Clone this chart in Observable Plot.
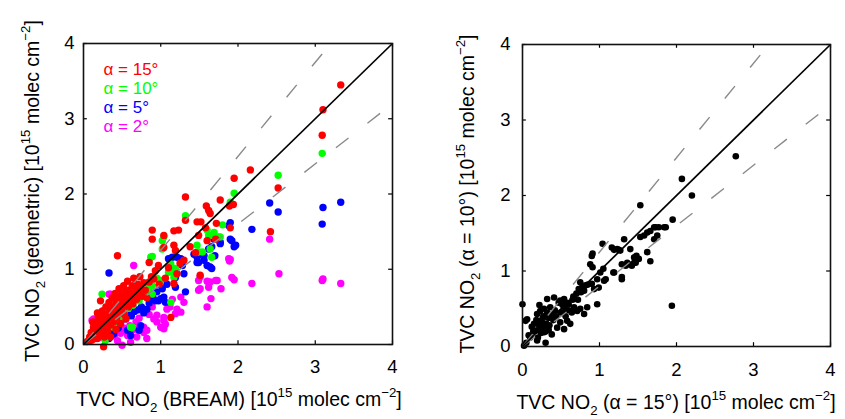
<!DOCTYPE html>
<html><head><meta charset="utf-8">
<script src="https://cdn.jsdelivr.net/npm/d3@7"></script>
<script src="https://cdn.jsdelivr.net/npm/@observablehq/plot@0.6"></script>
<style>
body{margin:0;background:#fff;}
#wrap{position:relative;width:845px;height:419px;overflow:hidden;background:#fff;}
#wrap svg{position:absolute;top:0;}
</style></head><body><div id="wrap"></div>
<script>
// ---------- data ----------
const tickValues = [0, 1, 2, 3, 4];
const refSlopes = [1.25, 0.8];           // dashed reference lines y = s * x
const legendLabels = ["α = 15°", "α = 10°", "α = 5°", "α = 2°"];
const seriesColors = ["#ff0000", "#00ff00", "#0000ff", "#ff00ff"];

// left panel: x = TVC NO2 (BREAM), y = TVC NO2 (geometric)
const alpha15 = [
[3.33,3.45],[3.10,3.12],[3.09,2.78],[2.16,2.32],[1.95,2.21],[2.52,2.08],[1.32,1.96],[1.59,1.84],[1.77,1.92],[1.89,1.84],[1.94,1.86],[2.42,1.50],[1.90,1.55],[1.64,1.74],[1.62,1.78],[1.32,1.65],[1.47,1.63],[1.52,1.63],[1.72,1.61],[1.58,1.55],[0.89,1.52],[0.89,1.40],[1.04,1.45],[1.17,1.51],[1.23,1.52],[1.04,1.29],[1.17,1.32],[1.19,1.25],[1.49,1.45],[1.71,1.40],[0.44,1.18],[0.85,1.09],[1.51,0.92],[1.13,0.36],[1.21,0.94],[1.17,0.81],[1.30,1.12],[1.10,1.02],[0.97,1.05],[0.93,0.98],[1.06,0.88],[0.98,0.80],[1.45,1.22],[1.60,1.38],[1.38,1.30],[1.25,1.08],
[0.05,0.04],[0.08,0.10],[0.10,0.16],[0.11,0.06],[0.13,0.22],[0.14,0.12],[0.16,0.28],[0.17,0.18],[0.18,0.08],[0.19,0.36],[0.20,0.24],[0.21,0.14],[0.22,0.58],[0.23,0.30],[0.24,0.44],[0.25,0.20],[0.26,-0.03],[0.26,0.36],[0.27,0.10],[0.28,0.27],[0.29,0.50],[0.30,0.40],[0.31,0.18],[0.32,0.33],[0.33,0.56],[0.34,0.46],[0.35,0.26],[0.36,0.38],[0.37,0.62],[0.38,0.50],[0.39,0.30],[0.40,0.44],[0.41,0.68],[0.42,0.56],[0.43,0.36],[0.44,0.48],[0.45,0.62],[0.46,0.74],[0.47,0.42],[0.48,0.54],[0.49,0.66],[0.50,0.48],[0.51,0.60],[0.52,0.78],[0.53,0.40],[0.54,0.70],[0.55,0.56],[0.56,0.64],[0.57,0.84],[0.58,0.50],[0.59,0.72],[0.60,0.60],[0.62,0.68],[0.63,0.78],[0.64,0.54],[0.65,0.88],[0.66,0.64],[0.68,0.72],[0.69,0.60],[0.70,0.80],[0.72,0.68],[0.73,0.90],[0.74,0.76],[0.76,0.64],[0.78,0.82],[0.80,0.72],[0.82,0.62],[0.85,0.83],[0.88,0.90],[0.91,0.87],[0.12,0.30],[0.18,0.42],[0.35,0.10],[0.42,0.20],[0.48,0.28],[0.55,0.34]
];
const alpha10 = [
[3.09,2.54],[2.52,2.25],[1.95,2.01],[1.90,1.89],[1.32,1.71],[1.80,1.59],[1.77,1.43],[1.75,1.43],[1.62,1.45],[1.64,1.45],[1.69,1.49],[1.60,1.52],[1.49,1.23],[1.54,1.23],[1.64,1.27],[1.66,1.16],[1.47,1.32],[1.02,1.38],[1.02,1.27],[1.04,1.43],[0.89,1.17],[0.87,1.16],[1.13,1.07],[1.19,1.01],[1.10,0.96],[1.17,0.96],[1.17,0.89],[1.00,0.85],[1.13,0.56],[0.89,0.67],[0.89,0.78],[0.74,0.65],[0.67,0.61],[0.24,0.67],[0.63,0.23],[0.61,0.23],[0.39,0.23],[0.28,0.05],[0.95,0.88],[0.85,0.75],[0.80,0.70],
[0.10,0.08],[0.15,0.12],[0.18,0.20],[0.20,0.15],[0.25,0.22],[0.28,0.30],[0.30,0.24],[0.34,0.32],[0.36,0.28],[0.40,0.38],[0.42,0.33],[0.45,0.42],[0.48,0.38],[0.50,0.46],[0.53,0.44],[0.55,0.52],[0.58,0.48],[0.60,0.56],[0.64,0.52],[0.66,0.60],[0.70,0.62],[0.72,0.58],[0.77,0.66],[0.82,0.72],[0.30,0.42],[0.22,0.32],[0.46,0.30],[0.52,0.36]
];
const alpha5 = [
[3.33,1.89],[3.10,1.82],[3.09,1.60],[2.41,1.88],[2.52,1.76],[2.18,1.53],[1.90,1.62],[1.88,1.58],[1.92,1.38],[1.95,1.30],[1.97,1.32],[1.90,1.40],[1.77,1.36],[1.69,1.40],[1.77,1.34],[1.62,1.27],[1.66,1.30],[1.51,1.20],[1.43,1.20],[1.47,1.16],[1.56,1.12],[1.56,1.18],[1.47,1.09],[1.49,1.09],[1.60,1.05],[1.64,1.03],[1.66,1.01],[1.70,1.18],[1.28,1.05],[1.26,1.14],[1.21,1.16],[1.10,1.14],[1.15,1.16],[1.19,0.89],[1.30,0.94],[1.19,0.76],[1.32,0.70],[1.04,0.63],[1.00,0.61],[0.97,0.58],[0.93,0.58],[1.06,0.56],[0.82,0.47],[0.33,0.95],[0.22,0.41],[0.37,0.19],[0.33,0.08],[0.61,0.12],[0.72,0.19],[0.74,0.25],[0.57,0.19],[0.39,0.14],
[0.15,0.10],[0.20,0.14],[0.25,0.18],[0.28,0.24],[0.32,0.20],[0.35,0.28],[0.40,0.26],[0.42,0.32],[0.46,0.30],[0.50,0.36],[0.54,0.34],[0.58,0.40],[0.62,0.38],[0.66,0.44],[0.70,0.46],[0.75,0.50],[0.78,0.42],[0.85,0.55],[0.90,0.62],[0.95,0.70],[1.02,0.74],[1.08,0.80],[0.45,0.22],[0.30,0.12]
];
const alpha2 = [
[3.33,0.81],[3.10,0.87],[3.09,0.85],[2.53,0.94],[2.41,1.40],[2.18,0.81],[1.89,1.11],[1.90,1.13],[1.95,0.86],[1.92,0.89],[1.78,0.74],[1.65,0.61],[1.60,0.50],[1.71,0.85],[1.73,0.85],[1.60,0.84],[1.64,0.83],[1.62,0.76],[1.51,0.74],[1.51,0.90],[1.49,0.85],[1.49,0.72],[1.88,1.14],[0.65,1.05],[1.26,0.63],[1.30,0.56],[1.26,0.43],[1.21,0.47],[1.19,0.41],[1.08,0.47],[1.04,0.36],[0.91,0.34],[1.00,0.23],[1.04,0.21],[1.06,0.27],[1.04,0.32],[0.95,0.39],[0.89,0.50],[0.78,0.45],[0.78,0.23],[0.78,0.16],[0.82,0.19],[0.82,0.08],[0.72,0.23],[0.69,0.10],[0.61,0.03],[0.57,0.12],[0.50,-0.01],[0.44,0.05],[0.41,0.14],[0.35,0.67],[0.33,0.67],[0.22,0.10],[0.13,0.23],[0.13,0.32],[0.11,0.32],[0.13,0.25],[0.13,0.34],
[0.08,0.05],[0.15,0.08],[0.20,0.12],[0.25,0.10],[0.28,0.15],[0.30,0.08],[0.35,0.18],[0.38,0.12],[0.45,0.20],[0.48,0.15],[0.52,0.22],[0.55,0.18],[0.60,0.25],[0.65,0.20],[0.68,0.30],[0.72,0.35],[0.85,0.40],[0.95,0.30],[1.12,0.50],[1.15,0.60],[0.30,0.30],[0.25,0.45],[0.40,0.35],[0.18,0.20]
];

// right panel: x = TVC NO2 (alpha = 15°), y = TVC NO2 (alpha = 10°)
const alpha15vs10 = [
[2.77,2.52],[2.07,2.22],[2.20,2.00],[1.53,1.87],[1.95,1.68],[1.86,1.58],[1.77,1.58],[1.71,1.58],[1.66,1.53],[1.62,1.51],[1.58,1.47],[1.53,1.45],[1.71,1.42],[1.75,1.47],[1.62,1.25],[1.66,1.13],[1.32,1.42],[1.40,1.29],[1.27,1.27],[1.16,1.31],[1.04,1.36],[1.23,1.29],[1.48,1.20],[1.51,1.16],[1.45,1.11],[1.38,1.09],[1.29,1.09],[1.36,1.11],[1.18,0.98],[1.29,0.89],[1.05,1.03],[1.01,0.98],[1.08,0.89],[1.06,0.87],[0.91,1.23],[0.88,1.09],[0.91,1.05],[0.75,0.85],[0.82,0.81],[0.80,0.74],[0.93,0.76],[0.99,0.78],[0.97,0.56],[1.94,0.54],[0.00,0.56],[0.06,0.36],[0.32,0.63],[0.41,0.65],[0.49,0.61],[0.54,0.63],[0.60,0.56],[0.67,0.52],[0.71,0.47],[0.75,0.50],[0.84,0.52],[0.80,0.43],[0.19,0.43],[0.23,0.47],[0.15,0.30],[0.17,0.21],[0.28,0.19],[0.10,0.12],[0.19,0.08],[0.30,0.05],[0.28,0.25],[0.49,0.32],[0.58,0.34],[0.62,0.30],[0.45,0.25],[0.54,0.23],[0.38,0.16],[1.19,0.98],[1.29,0.92],[0.90,0.83],[0.97,0.89],[1.42,1.07],[1.34,1.07],[1.47,1.11],[1.45,1.18],[1.19,1.28],[1.25,1.28],[0.90,1.20],[1.73,1.58],[1.84,1.58],[0.04,0.34],[0.47,0.58],[0.52,0.45],[0.02,0.01],
[0.20,0.30],[0.25,0.35],[0.30,0.30],[0.22,0.25],[0.27,0.40],[0.33,0.38],[0.35,0.28],[0.24,0.18],[0.30,0.20],[0.18,0.35],[0.26,0.28],[0.32,0.45],[0.38,0.42],[0.42,0.48],[0.36,0.52],[0.44,0.40],[0.50,0.45],[0.55,0.50],[0.40,0.35],[0.28,0.50],[0.22,0.55],[0.34,0.22],[0.14,0.20],[0.12,0.26],[0.20,0.12],[0.05,0.05],[0.08,0.15],[0.65,0.62],[0.70,0.70],[0.72,0.62],[0.60,0.48],[0.64,0.45],[0.52,0.55],[0.58,0.58],[0.66,0.66],[0.76,0.72],[0.78,0.80],[0.85,0.82],[0.73,0.76],[0.56,0.40]
];

const leftXLabel = [["TVC NO"],["2","sub"],[" (BREAM) [10"],["15","sup"],[" molec cm"],["−2","sup"],["]"]];
const leftYLabel = [["TVC NO"],["2","sub"],[" (geometric) [10"],["15","sup"],[" molec cm"],["−2","sup"],["]"]];
const rightXLabel = [["TVC NO"],["2","sub"],[" (α = 15°) [10"],["15","sup"],[" molec cm"],["−2","sup"],["]"]];
const rightYLabel = [["TVC NO"],["2","sub"],[" (α = 10°) [10"],["15","sup"],[" molec cm"],["−2","sup"],["]"]];

// ---------- drawing ----------
const FONT = "'Liberation Sans', Arial, Helvetica, sans-serif";

function addLabel(svg, parts, {x, y, rotate = false, size = 19.5}) {
  const t = d3.select(svg).append("text")
    .attr("transform", `translate(${x},${y})` + (rotate ? " rotate(-90)" : ""))
    .attr("text-anchor", "middle").attr("font-size", size).attr("fill", "black")
    .attr("font-family", FONT);
  let shift = 0;
  parts.forEach(([s, kind]) => {
    const ts = t.append("tspan").text(s);
    let target = 0;
    if (kind === "sub") { target = size * 0.32; ts.attr("font-size", size * 0.68); }
    if (kind === "sup") { target = -size * 0.45; ts.attr("font-size", size * 0.68); }
    if (target !== shift) ts.attr("dy", target - shift);
    shift = target;
  });
}

function panel({width, left, marginLeft, marginRight, marginTop, marginBottom, layers, r, legend, xPad, yPad}) {
  const marks = [];
  layers.forEach(l => marks.push(Plot.dot(l.data, {x: d => d[0], y: d => d[1], r, fill: l.color})));
  marks.push(Plot.link(refSlopes.map(s => ({x1: 0, y1: 0, x2: s > 1 ? 4 / s : 4, y2: s > 1 ? 4 : 4 * s})),
    {x1: "x1", y1: "y1", x2: "x2", y2: "y2", stroke: "#8a8a8a", strokeWidth: 1.4, strokeDasharray: "16,24"}));
  marks.push(Plot.link([{x1: 0, y1: 0, x2: 4, y2: 4}], {x1: "x1", y1: "y1", x2: "x2", y2: "y2", stroke: "black", strokeWidth: 1.7}));
  marks.push(Plot.ruleX(tickValues, {x: d => d, y1: 0, y2: 0.05, stroke: "black", strokeWidth: 1.2}));
  marks.push(Plot.ruleX(tickValues, {x: d => d, y1: 4, y2: 3.95, stroke: "black", strokeWidth: 1.2}));
  marks.push(Plot.ruleY(tickValues, {y: d => d, x1: 0, x2: 0.05, stroke: "black", strokeWidth: 1.2}));
  marks.push(Plot.ruleY(tickValues, {y: d => d, x1: 4, x2: 3.95, stroke: "black", strokeWidth: 1.2}));
  marks.push(Plot.frame({stroke: "#111", strokeWidth: 1.6}));
  marks.push(Plot.axisX(tickValues, {tickSize: 0, tickPadding: xPad, label: null, fontSize: 18.5, tickFormat: d => String(d)}));
  marks.push(Plot.axisY(tickValues, {tickSize: 0, tickPadding: yPad, label: null, fontSize: 18.5, tickFormat: d => String(d)}));
  if (legend) {
    legendLabels.forEach((lab, i) => marks.push(Plot.text([lab], {
      frameAnchor: "top-left", dx: 20, dy: 19 + 19 * i, text: d => d,
      fill: seriesColors[i], textAnchor: "start", fontSize: 17
    })));
  }
  const svg = Plot.plot({
    width, height: 419, marginLeft, marginRight, marginTop, marginBottom,
    x: {domain: [0, 4], axis: null},
    y: {domain: [0, 4], axis: null},
    style: {fontFamily: FONT, fontSize: "18px", color: "black", background: "transparent", overflow: "visible"},
    marks
  });
  svg.style.left = left + "px";
  return svg;
}

const wrap = document.getElementById("wrap");

const leftSvg = panel({
  width: 420, left: 0, marginLeft: 83, marginRight: 28, marginTop: 43, marginBottom: 75, r: 3.7,
  layers: [
    {data: alpha2, color: seriesColors[3]},
    {data: alpha5, color: seriesColors[2]},
    {data: alpha10, color: seriesColors[1]},
    {data: alpha15, color: seriesColors[0]}
  ],
  legend: true, xPad: 15, yPad: 9
});
wrap.appendChild(leftSvg);
addLabel(leftSvg, leftXLabel, {x: 239, y: 406});
addLabel(leftSvg, leftYLabel, {x: 39, y: 191, rotate: true});

const rightSvg = panel({
  width: 425, left: 420, marginLeft: 102, marginRight: 15, marginTop: 44, marginBottom: 73, r: 3.3,
  layers: [{data: alpha15vs10, color: "black"}],
  legend: false, xPad: 16, yPad: 12
});
wrap.appendChild(rightSvg);
addLabel(rightSvg, rightXLabel, {x: 256, y: 409});
addLabel(rightSvg, rightYLabel, {x: 54, y: 194, rotate: true});
</script>
</body></html>
